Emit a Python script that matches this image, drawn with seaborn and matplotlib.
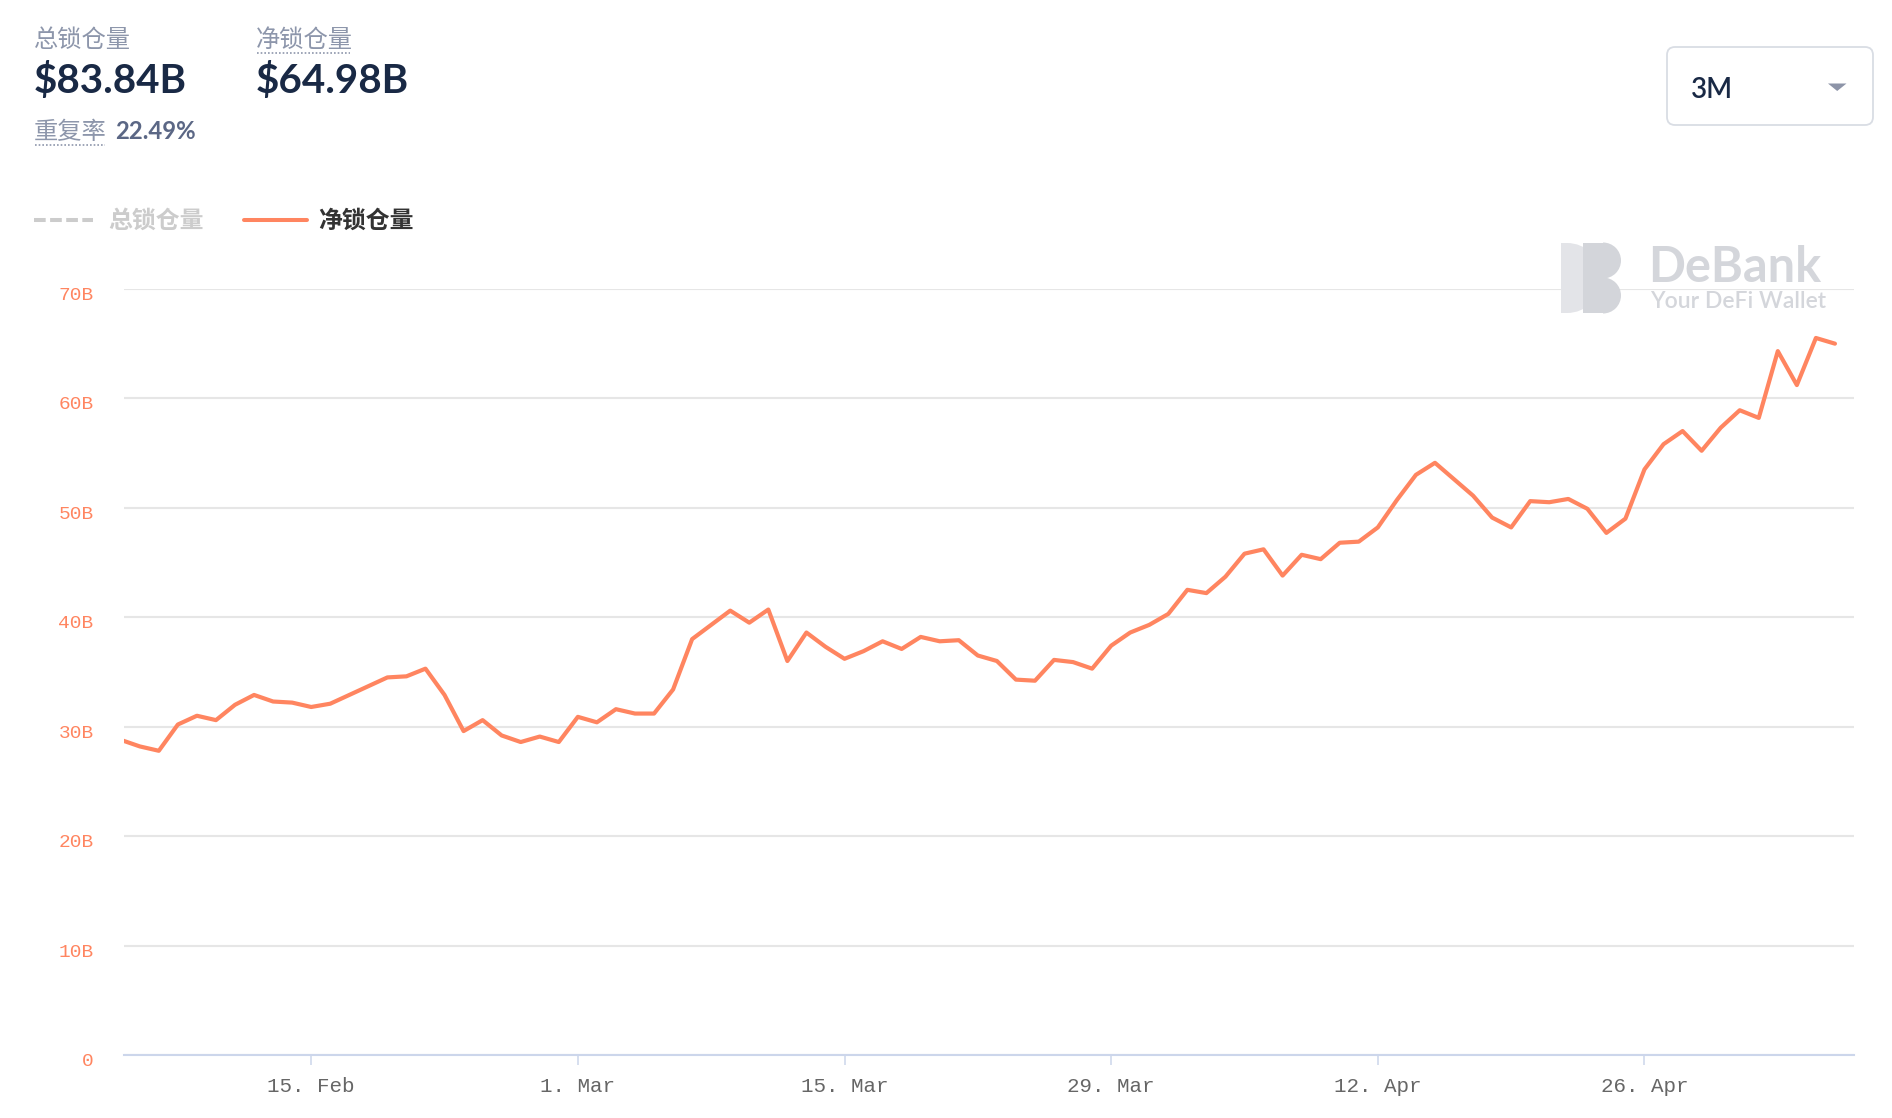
import numpy as np
import pandas as pd
import matplotlib
matplotlib.use("Agg")
import matplotlib.pyplot as plt
import seaborn as sns
from matplotlib.lines import Line2D
from matplotlib.patches import FancyBboxPatch, Polygon, Wedge, Rectangle
from matplotlib.ticker import FuncFormatter
from matplotlib.transforms import ScaledTranslation

# ---- data ----
start_day = "2021-02-05"
# daily net TVL (billions USD), one value per day from start_day
net_tvl_daily = [
    28.8, 28.2, 27.8, 30.2, 31.0, 30.6, 32.0, 32.9, 32.3, 32.2,
    31.8, 32.1, 32.9, 33.7, 34.5, 34.6, 35.3, 32.9, 29.6, 30.6,
    29.2, 28.6, 29.1, 28.6, 30.9, 30.4, 31.6, 31.2, 31.2, 33.4,
    38.0, 39.3, 40.6, 39.5, 40.7, 36.0, 38.6, 37.3, 36.2, 36.9,
    37.8, 37.1, 38.2, 37.8, 37.9, 36.5, 36.0, 34.3, 34.2, 36.1,
    35.9, 35.3, 37.4, 38.6, 39.3, 40.3, 42.5, 42.2, 43.7, 45.8,
    46.2, 43.8, 45.7, 45.3, 46.8, 46.9, 48.2, 50.7, 53.0, 54.1,
    52.6, 51.1, 49.1, 48.2, 50.6, 50.5, 50.8, 49.9, 47.7, 49.0,
    53.5, 55.8, 57.0, 55.2, 57.3, 58.9, 58.2, 64.3, 61.2, 65.5,
    64.98,
]

x_start = "2021-02-05 04:30"
x_end = "2021-05-07 00:00"
tick_dates = ["2021-02-15", "2021-03-01", "2021-03-15", "2021-03-29", "2021-04-12", "2021-04-26"]
tick_labels = ["15. Feb", "1. Mar", "15. Mar", "29. Mar", "12. Apr", "26. Apr"]
y_ticks = [0, 10, 20, 30, 40, 50, 60, 70]

total_tvl_text = "$83.84B"
net_tvl_text = "$64.98B"
overlap_text = "22.49%"
range_text = "3M"

dates = pd.date_range(start_day, periods=len(net_tvl_daily), freq="D")
df = pd.DataFrame({"date": dates, "tvl": net_tvl_daily})

# ---- style ----
W, H = 1892, 1118
ORANGE = "#ff8560"
GRAY_LABEL = "#8d96ab"
NAVY = "#192945"
CJK = ["Lato", "Noto Sans CJK SC", "DejaVu Sans"]

sns.set_theme(style="white")
plt.rcParams["font.family"] = CJK


def fx(x):
    return x / W


def fy(y):
    return 1 - y / H


fig = plt.figure(figsize=(W / 100, H / 100), dpi=100)
fig.patch.set_facecolor("white")
ax = fig.add_axes([fx(124.3), fy(1055.2), (1854 - 124.3) / W, (1055.2 - 288.7) / H])

sns.lineplot(data=df, x="date", y="tvl", ax=ax, color=ORANGE, linewidth=3)

ax.set_xlim(pd.Timestamp(x_start), pd.Timestamp(x_end))
ax.set_ylim(0, 70)
ax.set_yticks(y_ticks)
ax.yaxis.set_major_formatter(FuncFormatter(lambda v, p: "0" if v == 0 else f"{int(v)}B"))
ax.set_xticks(pd.to_datetime(tick_dates))
ax.set_xticklabels(tick_labels)
ax.set_xlabel("")
ax.set_ylabel("")

ax.yaxis.grid(True, color="#e6e6e6", linewidth=1.5)
ax.xaxis.grid(False)
ax.set_axisbelow(True)
for s in ["top", "right", "left"]:
    ax.spines[s].set_visible(False)
ax.spines["bottom"].set_color("#ccd6eb")
ax.spines["bottom"].set_linewidth(1.5)

ax.tick_params(axis="x", length=7.5, width=1.1, color="#ccd6eb", labelsize=15,
               labelcolor="#666666", pad=8, bottom=True)
ax.tick_params(axis="y", length=0, pad=22, labelsize=14, labelcolor=ORANGE)
for lbl in ax.get_xticklabels() + ax.get_yticklabels():
    lbl.set_fontfamily("Liberation Mono")
# Highcharts puts the y labels a touch below their grid line
shift_down = ScaledTranslation(0, -0.045, fig.dpi_scale_trans)
for t in ax.yaxis.get_major_ticks():
    t.label1.set_transform(t.label1.get_transform() + shift_down)

# ---- header ----
fig.text(fx(34), fy(40), "总锁仓量", fontsize=17.5, color=GRAY_LABEL, va="center")
fig.text(fx(34), fy(93.3), total_tvl_text, fontsize=29, weight="bold", color=NAVY, va="baseline")
fig.text(fx(256), fy(40), "净锁仓量", fontsize=17.5, color=GRAY_LABEL, va="center")
fig.text(fx(256), fy(93.3), net_tvl_text, fontsize=29, weight="bold", color=NAVY, va="baseline")
fig.text(fx(34), fy(132), "重复率", fontsize=17.5, color=GRAY_LABEL, va="center")
fig.text(fx(115), fy(139.3), overlap_text, fontsize=17.2, weight="bold", color="#5b6785", va="baseline")

for x0, x1, y in [(257, 350, 52.5), (35, 105, 144.5)]:
    fig.add_artist(Line2D([fx(x0), fx(x1)], [fy(y), fy(y)], transform=fig.transFigure,
                          color=GRAY_LABEL, linewidth=1.2, linestyle=(0, (1, 1.2))))

# ---- legend ----
fig.add_artist(Line2D([fx(34), fx(93)], [fy(220), fy(220)], transform=fig.transFigure,
                      color="#cccccc", linewidth=2.9, dashes=(2.9, 1.1), dash_capstyle="butt"))
fig.text(fx(108), fy(220), "总锁仓量", fontsize=17.2, weight="bold", color="#cccccc", va="center")
fig.add_artist(Line2D([fx(244), fx(307)], [fy(220), fy(220)], transform=fig.transFigure,
                      color=ORANGE, linewidth=2.9))
fig.text(fx(318), fy(220), "净锁仓量", fontsize=17.2, weight="bold", color="#333333", va="center")

# ---- range dropdown ----
px = fig.dpi_scale_trans


def pin(x, y):
    return (x / 100, (H - y) / 100)


x0, y0 = pin(1667, 125)
box = FancyBboxPatch((x0, y0), (1873 - 1667) / 100, (125 - 47) / 100,
                     boxstyle="round,pad=0,rounding_size=0.08", transform=px,
                     facecolor="white", edgecolor="#d9dde4", linewidth=1.3)
fig.add_artist(box)
fig.text(fx(1691), fy(98.3), range_text, fontsize=20, weight="semibold", color=NAVY, va="baseline")
fig.add_artist(Polygon([pin(1828, 83.5), pin(1846.5, 83.5), pin(1837.2, 91)], closed=True,
                       transform=px, facecolor="#8d94a8", edgecolor="none"))

# ---- watermark ----
fig.add_artist(Rectangle(pin(1561, 313), 0.06, 0.70, transform=px, facecolor="#e3e4e8", edgecolor="none"))
fig.add_artist(Wedge(pin(1567, 278), 0.35, -90, 90, transform=px, facecolor="#e3e4e8", edgecolor="none"))
fig.add_artist(Rectangle(pin(1583, 313), 0.21, 0.70, transform=px, facecolor="#d3d5da", edgecolor="none"))
fig.add_artist(Wedge(pin(1603, 260.5), 0.18, -90, 90, transform=px, facecolor="#d3d5da", edgecolor="none"))
fig.add_artist(Wedge(pin(1603, 295.5), 0.18, -90, 90, transform=px, facecolor="#d3d5da", edgecolor="none"))
fig.text(fx(1648), fy(282), "DeBank", fontsize=35, weight="bold", color="#d4d6db", va="baseline")
fig.text(fx(1650), fy(308), "Your DeFi Wallet", fontsize=16.5, weight="semibold", color="#d4d6db", va="baseline")

fig.savefig("out.png", dpi=100, facecolor="white")
